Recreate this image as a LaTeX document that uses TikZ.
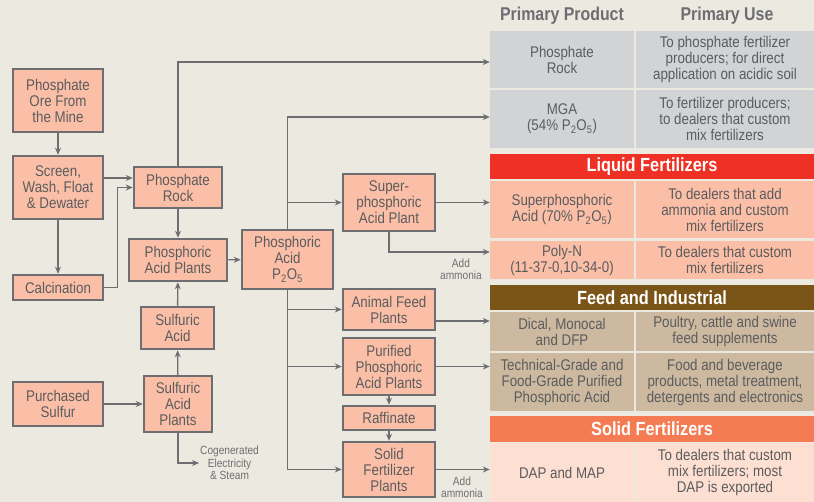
\documentclass[tikz,border=0pt]{standalone}
\usepackage{fontspec}
\setmainfont{Liberation Sans}[FakeStretch=0.86]
\usepackage{tikz}
\usetikzlibrary{
	arrows.meta,
	positioning,
	calc
}
\definecolor{bgbeige}{HTML}{ECE9E0}
\definecolor{boxfill}{HTML}{FBBFA7}
\definecolor{boxline}{HTML}{6D6E71}
\definecolor{boxtext}{HTML}{5B5C5E}
\definecolor{rowgray}{HTML}{D1D3D4}
\definecolor{liquidred}{HTML}{EE3124}
\definecolor{liquidrow}{HTML}{FBBEA6}
\definecolor{feedbrown}{HTML}{7B5417}
\definecolor{feedrow}{HTML}{CDB9A0}
\definecolor{solidorange}{HTML}{F47B52}
\definecolor{solidrow}{HTML}{FDE0D2}

\begin{document}
\begin{tikzpicture}[
				x=1pt, y=-1pt,
				box/.style={
					rectangle, draw=boxline, line width=2.5pt,
					fill=boxfill, text=boxtext, inner sep=0pt,
					align=center, font=\fontsize{15.5}{16}\selectfont
				},
				arrow/.style={-{Stealth[length=7pt,width=6pt]}, line width=1.4pt, boxline},
				cell/.style={
					rectangle, inner sep=0pt, align=center, text=boxtext,
					font=\fontsize{15.5}{16}\selectfont
				},
				prodcell/.style={cell, minimum width=144pt},
				usecell/.style={cell, minimum width=178pt},
				headbar/.style={
					rectangle, inner sep=0pt, minimum width=324pt, minimum height=25pt,
					text=white, font=\bfseries\fontsize{19}{20}\selectfont
				},
				coltitle/.style={text=boxline, font=\bfseries\fontsize{18.5}{20}\selectfont},
				note/.style={align=center, inner sep=0pt, text=boxline, font=\fontsize{11.8}{12.5}\selectfont},
				]
				
				\fill[bgbeige] (0,0) rectangle (814,502);
				\useasboundingbox (0,0) rectangle (814,502);
				
				%mine side
				\node[box, minimum width=90pt, minimum height=63pt] (ore) at (58,100.5) {Phosphate\\Ore From\\the Mine};
				\node[box, minimum width=90pt, minimum height=63pt] (screen) at (58,187.5) {Screen,\\Wash, Float\\\& Dewater};
				\node[box, minimum width=90pt, minimum height=25pt] (calc) at (58,287.5) {Calcination};
				\node[box, minimum width=90pt, minimum height=44pt] (sulfur) at (58,404) {Purchased\\Sulfur};
				
				%2. column
				\node[box, minimum width=88pt, minimum height=41pt] (rock) at (178,187.5) {Phosphate\\Rock};
				\node[box, minimum width=98pt, minimum height=42pt] (acidplants) at (178,260) {Phosphoric\\Acid Plants};
				\node[box, minimum width=73pt, minimum height=42pt] (sulfacid) at (177.5,328) {Sulfuric\\Acid};
				\node[box, minimum width=68pt, minimum height=56pt] (sulfplants) at (178,404) {Sulfuric\\Acid\\Plants};
				\node[note, anchor=west] (cogen) at (200,463) {Cogenerated\\Electricity\\\& Steam};
				
				%3. column
				\node[box, minimum width=91pt, minimum height=59pt] (acid) at (287.5,259.5) {Phosphoric\\Acid\\P\textsubscript{2}O\textsubscript{5}};
				
				%4. column
				\node[box, minimum width=92pt, minimum height=57pt] (superplant) at (389,202.5) {Super-\\phosphoric\\Acid Plant};
				\node[box, minimum width=92pt, minimum height=41pt] (feed) at (389,309.5) {Animal Feed\\Plants};
				\node[box, minimum width=92pt, minimum height=57pt] (purified) at (389,366.5) {Purified\\Phosphoric\\Acid Plants};
				\node[box, minimum width=92pt, minimum height=24pt] (raff) at (389,418) {Raffinate};
				\node[box, minimum width=92pt, minimum height=55pt] (solid) at (389,469.5) {Solid\\Fertilizer\\Plants};
				\node[note] (ammonia1) at (461,269.5) {Add\\ammonia};
				\node[note] (ammonia2) at (462,487.5) {Add\\ammonia};
				
				%table
				\node[coltitle] (prodtitle) at (562,16) {Primary Product};
				\node[coltitle] (usetitle) at (727,16) {Primary Use};
				
				\node[prodcell, fill=rowgray, minimum height=57pt] (rockrow) at (562,59.5) {Phosphate\\Rock};
				\node[usecell, fill=rowgray, minimum height=57pt] (rockuse) at (725,59.5) {To phosphate fertilizer\\producers; for direct\\application on acidic soil};
				\node[prodcell, fill=rowgray, minimum height=58pt] (mgarow) at (562,119) {MGA\\(54\% P\textsubscript{2}O\textsubscript{5})};
				\node[usecell, fill=rowgray, minimum height=58pt] (mgause) at (725,119) {To fertilizer producers;\\to dealers that custom\\mix fertilizers};
				
				\node[headbar, fill=liquidred] (liquidhead) at (652,166.5) {Liquid Fertilizers};
				\node[prodcell, fill=liquidrow, minimum height=57pt] (superrow) at (562,209.5) {Superphosphoric\\Acid (70\% P\textsubscript{2}O\textsubscript{5})};
				\node[usecell, fill=liquidrow, minimum height=57pt] (superuse) at (725,209.5) {To dealers that add\\ammonia and custom\\mix fertilizers};
				\node[prodcell, fill=liquidrow, minimum height=38pt] (polyrow) at (562,260) {Poly-N\\(11-37-0,10-34-0)};
				\node[usecell, fill=liquidrow, minimum height=38pt] (polyuse) at (725,260) {To dealers that custom\\mix fertilizers};
				
				\node[headbar, fill=feedbrown] (feedhead) at (652,297.5) {Feed and Industrial};
				\node[prodcell, fill=feedrow, minimum height=39pt] (dicalrow) at (562,331.5) {Dical, Monocal\\and DFP};
				\node[usecell, fill=feedrow, minimum height=39pt] (dicaluse) at (725,331.5) {Poultry, cattle and swine\\feed supplements};
				\node[prodcell, fill=feedrow, minimum height=58pt] (techrow) at (562,382) {Technical-Grade and\\Food-Grade Purified\\Phosphoric Acid};
				\node[usecell, fill=feedrow, minimum height=58pt] (techuse) at (725,382) {Food and beverage\\products, metal treatment,\\detergents and electronics};
				
				\node[headbar, fill=solidorange] (solidhead) at (652,429) {Solid Fertilizers};
				\node[prodcell, fill=solidrow, minimum height=59pt] (daprow) at (562,472.5) {DAP and MAP};
				\node[usecell, fill=solidrow, minimum height=59pt] (dapuse) at (725,472.5) {To dealers that custom\\mix fertilizers; most\\DAP is exported};
				
				%arrows left
				\draw[arrow] (ore) -- (screen);
				\draw[arrow] (screen) -- (calc);
				\draw[arrow] ([yshift=9.5pt]screen.east) -- ([yshift=9.5pt]rock.west);
				\draw[arrow] (calc.east) -- ++(13,0) |- (rock.west);
				\draw[arrow] (rock.north) |- ([yshift=-2.5pt]rockrow.west);
				\draw[arrow] (rock) -- (acidplants);
				\draw[arrow] (sulfacid) -- (acidplants);
				\draw[arrow] (sulfplants) -- (sulfacid);
				\draw[arrow] (sulfur) -- (sulfplants);
				\draw[arrow, shorten >=1pt] (sulfplants.south) |- (cogen.west);
				\draw[arrow] (acidplants) -- (acid);
				
				%trunk
				\draw[arrow] (acid.north) |- ([yshift=2pt]mgarow.west);
				\draw[arrow] (acid.north |- superplant.west) -- (superplant.west);
				\draw[arrow] (acid.south) |- (solid.west);
				\draw[arrow] (acid.south |- feed.west) -- (feed.west);
				\draw[arrow] (acid.south |- purified.west) -- (purified.west);
				
				%to table
				\draw[arrow] (superplant.east) -- (superplant.east -| superrow.west);
				\draw[arrow] (superplant.south) |- ([yshift=8pt]polyrow.west);
				\draw[arrow] ([yshift=-11.5pt]feed.east) -- ([yshift=-11.5pt]feed.east -| dicalrow.west);
				\draw[arrow] (purified.east) -- (purified.east -| techrow.west);
				\draw[arrow] (purified) -- (raff);
				\draw[arrow] (raff) -- (solid);
				\draw[arrow] (solid.east) -- (solid.east -| daprow.west);
			\end{tikzpicture}
\end{document}
